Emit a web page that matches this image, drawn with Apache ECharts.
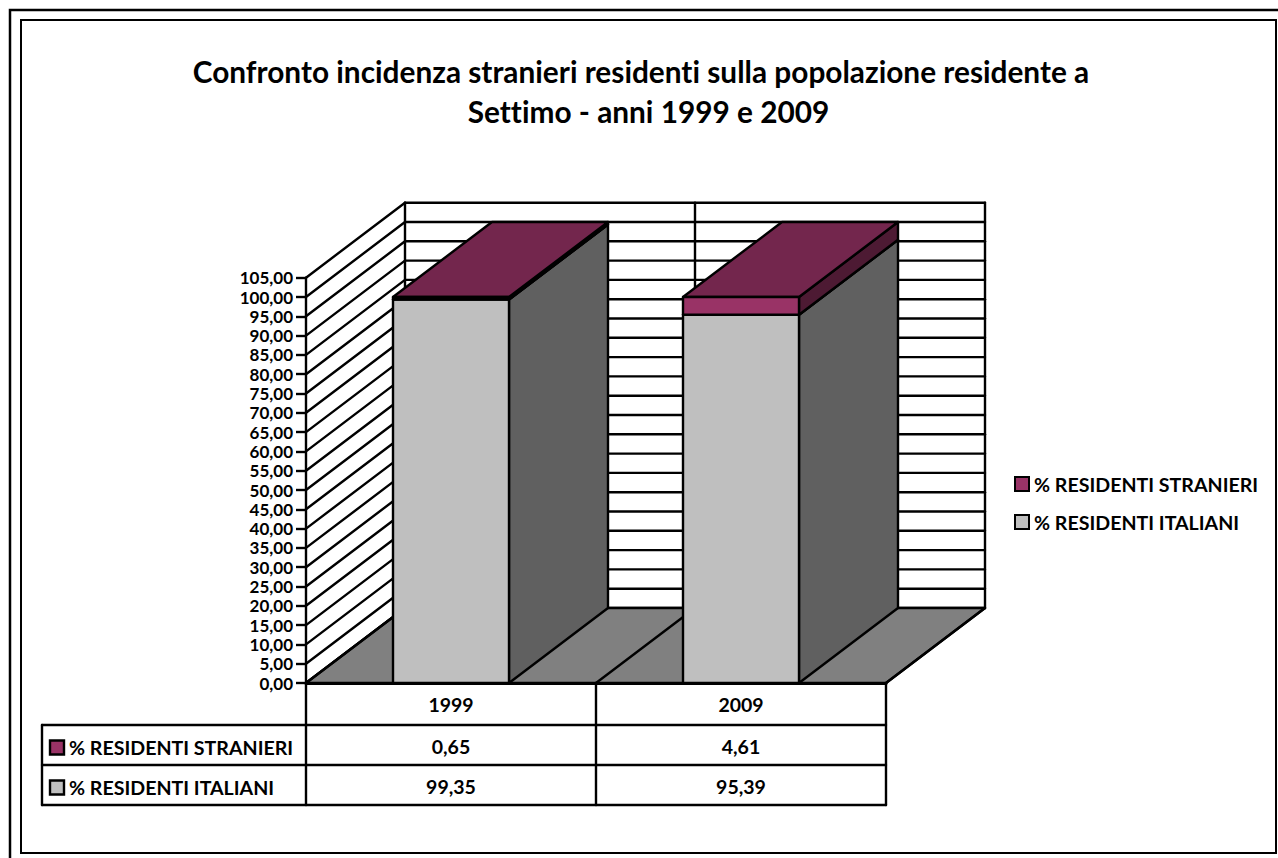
<!DOCTYPE html>
<html>
<head>
<meta charset="utf-8">
<style>html,body{margin:0;padding:0;background:#fff}#c{width:1278px;height:858px}
svg text{font-variant-ligatures:none !important;font-feature-settings:"liga" 0,"clig" 0 !important}</style>
<script src="https://cdn.jsdelivr.net/npm/echarts@6/dist/echarts.min.js"></script>
</head>
<body>
<div id="c"></div>
<script>
var titleLine1 = 'Confronto incidenza stranieri residenti sulla popolazione residente a';
var titleLine2 = 'Settimo - anni 1999 e 2009';
var years = ['1999', '2009'];
var seriesForeign = '% RESIDENTI STRANIERI';
var seriesItalian = '% RESIDENTI ITALIANI';
var valuesForeign = [0.65, 4.61];
var valuesItalian = [99.35, 95.39];
var axisTicks = [0,5,10,15,20,25,30,35,40,45,50,55,60,65,70,75,80,85,90,95,100,105];

var FONT = 'Lato';
var LW = 2.4;
var DX = 99, DY = 75;
var BLACK = '#000';
var colItalian = {front:'#BFBFBF', side:'#606060', top:'#8F8F8F'};
var colForeign = {front:'#993366', side:'#4D1A33', top:'#73264D'};
var rowY = [725, 765, 805];
var tableLeft = 42;

function fmt(v){ return v.toFixed(2).replace('.', ','); }
function poly(pts, fill){
  return {type:'polygon', shape:{points:pts}, style:{fill:fill, stroke:BLACK, lineWidth:LW, lineJoin:'round'}};
}
function seg(a, b, w){
  return {type:'line', shape:{x1:a[0],y1:a[1],x2:b[0],y2:b[1]}, style:{stroke:BLACK, lineWidth:w||LW, lineCap:'round'}};
}
function txt(s, x, y, align, size){
  return {type:'text', style:{text:s, x:x, y:y, align:align||'center', verticalAlign:'middle', fill:'#000',
    font:'bold '+(size||19.5)+'px '+FONT}};
}
function back(p){ return [p[0]+DX, p[1]-DY]; }

function renderWalls(params, api){
  var v = api.value(0);
  var pL = api.coord([0, v]), w = api.size([1,0])[0];
  var left = [pL[0]-w/2, pL[1]], right = [left[0]+w*years.length, pL[1]];
  var kids = [seg(left, back(left)), seg(back(left), back(right))];
  return {type:'group', children:kids};
}
function renderFrame(params, api){
  var base = api.coord([0, 0]), topP = api.coord([0, 105]), w = api.size([1,0])[0];
  var x0 = base[0]-w/2, y0 = base[1], n = years.length, kids = [];
  kids.push(poly([[x0,y0],back([x0,y0]),back([x0+n*w,y0]),[x0+n*w,y0]], '#808080'));
  for (var i=0;i<=n;i++){
    var bx = x0+i*w;
    kids.push(seg([bx,y0], back([bx,y0])));
    kids.push(seg(back([bx,y0]), back([bx,topP[1]])));
  }
  return {type:'group', children:kids};
}
function renderBar(col){
  return function(params, api){
    var i = api.value(0), s = api.value(1), e = api.value(2);
    var a = api.coord([i, s]), b = api.coord([i, e]);
    var w = api.size([1,0])[0]*0.4;
    var l = a[0]-w/2, r = a[0]+w/2;
    var kids = [
      poly([[r,a[1]],back([r,a[1]]),back([r,b[1]]),[r,b[1]]], col.side),
      poly([[l,b[1]],back([l,b[1]]),back([r,b[1]]),[r,b[1]]], col.top),
      poly([[l,a[1]],[r,a[1]],[r,b[1]],[l,b[1]]], col.front)
    ];
    return {type:'group', children:kids};
  };
}
function renderTable(params, api){
  var base = api.coord([0, 0]), w = api.size([1,0])[0];
  var x0 = base[0]-w/2, y0 = base[1], n = years.length, kids = [];
  var xr = x0+n*w;
  for (var i=0;i<=n;i++) kids.push(seg([x0+i*w,y0],[x0+i*w,rowY[2]]));
  rowY.forEach(function(y){ kids.push(seg([tableLeft,y],[xr,y])); });
  kids.push(seg([tableLeft,rowY[0]],[tableLeft,rowY[2]]));
  years.forEach(function(yr,k){
    var cx = x0+(k+.5)*w;
    kids.push(txt(yr, cx, (y0+rowY[0])/2+.5));
    kids.push(txt(fmt(valuesForeign[k]), cx, (rowY[0]+rowY[1])/2+1.5));
    kids.push(txt(fmt(valuesItalian[k]), cx, (rowY[1]+rowY[2])/2+1.5));
  });
  [[seriesForeign,colForeign.front,rowY[0]],[seriesItalian,colItalian.front,rowY[1]]].forEach(function(r){
    var cy = r[2]+22.5;
    kids.push({type:'rect', shape:{x:tableLeft+8,y:cy-7,width:14,height:14},
      style:{fill:r[1],stroke:BLACK,lineWidth:LW}});
    kids.push(txt(r[0], tableLeft+27, cy, 'left', 19.6));
  });
  return {type:'group', children:kids};
}
function barData(startArr, endArr){
  return years.map(function(y,i){ return [i, startArr[i], endArr[i]]; });
}
var stackTop = valuesItalian.map(function(v,i){ return v+valuesForeign[i]; });
var zeros = years.map(function(){ return 0; });
var titleStyle = {fontFamily:FONT, fontWeight:'bold', fontSize:29.8, color:'#000'};

var chart = echarts.init(document.getElementById('c'), null, {renderer:'svg', width:1278, height:858});
chart.setOption({
  animation:false,
  backgroundColor:'#fff',
  title:[
    {text:titleLine1, left:641, top:56, padding:0, textAlign:'center', textStyle:titleStyle},
    {text:titleLine2, left:648.5, top:96, padding:0, textAlign:'center', textStyle:titleStyle}
  ],
  legend:{orient:'vertical', left:1014, top:474, padding:0, itemWidth:14, itemHeight:14, itemGap:18, icon:'rect',
    data:[seriesForeign, seriesItalian],
    selectedMode:false,
    textStyle:{fontFamily:FONT, fontWeight:'bold', fontSize:19.6, color:'#000', padding:[4,0,0,0]}},
  grid:{left:306, top:277.7, width:580, height:405.3, containLabel:false},
  xAxis:{type:'category', data:years, axisLabel:{show:false}, axisTick:{show:false},
    axisLine:{show:true, lineStyle:{color:BLACK, width:3}}, splitLine:{show:false}, z:5},
  yAxis:{type:'value', min:0, max:105, interval:5,
    axisLine:{show:true, lineStyle:{color:BLACK, width:LW}},
    axisTick:{show:true, length:10, lineStyle:{color:BLACK, width:LW}},
    axisLabel:{formatter:fmt, margin:13, fontFamily:FONT, fontWeight:'bold', fontSize:17, color:'#000'},
    splitLine:{show:false}},
  series:[
    {type:'custom', silent:true, z:1, clip:false, data:axisTicks.map(function(t){return [t];}),
      renderItem:renderWalls, encode:{y:0}, legendHoverLink:false},
    {type:'custom', silent:true, z:2, clip:false, data:[[0]], renderItem:renderFrame, encode:{y:0}},
    {type:'custom', name:seriesItalian, z:3, clip:false, silent:true,
      itemStyle:{color:colItalian.front, borderColor:BLACK, borderWidth:LW},
      data:barData(zeros, valuesItalian), renderItem:renderBar(colItalian), encode:{x:0,y:[1,2]}},
    {type:'custom', name:seriesForeign, z:4, clip:false, silent:true,
      itemStyle:{color:colForeign.front, borderColor:BLACK, borderWidth:LW},
      data:barData(valuesItalian, stackTop), renderItem:renderBar(colForeign), encode:{x:0,y:[1,2]}},
    {type:'custom', silent:true, z:6, clip:false, data:[[0]], renderItem:renderTable, encode:{y:0}}
  ],
  graphic:[
    {type:'rect', silent:true, z:-1, shape:{x:10,y:10,width:1400,height:1000}, style:{fill:'none',stroke:BLACK,lineWidth:2.5}},
    {type:'rect', silent:true, z:-1, shape:{x:21,y:20,width:1255,height:833}, style:{fill:'none',stroke:BLACK,lineWidth:2}}
  ]
});
</script>
</body>
</html>
